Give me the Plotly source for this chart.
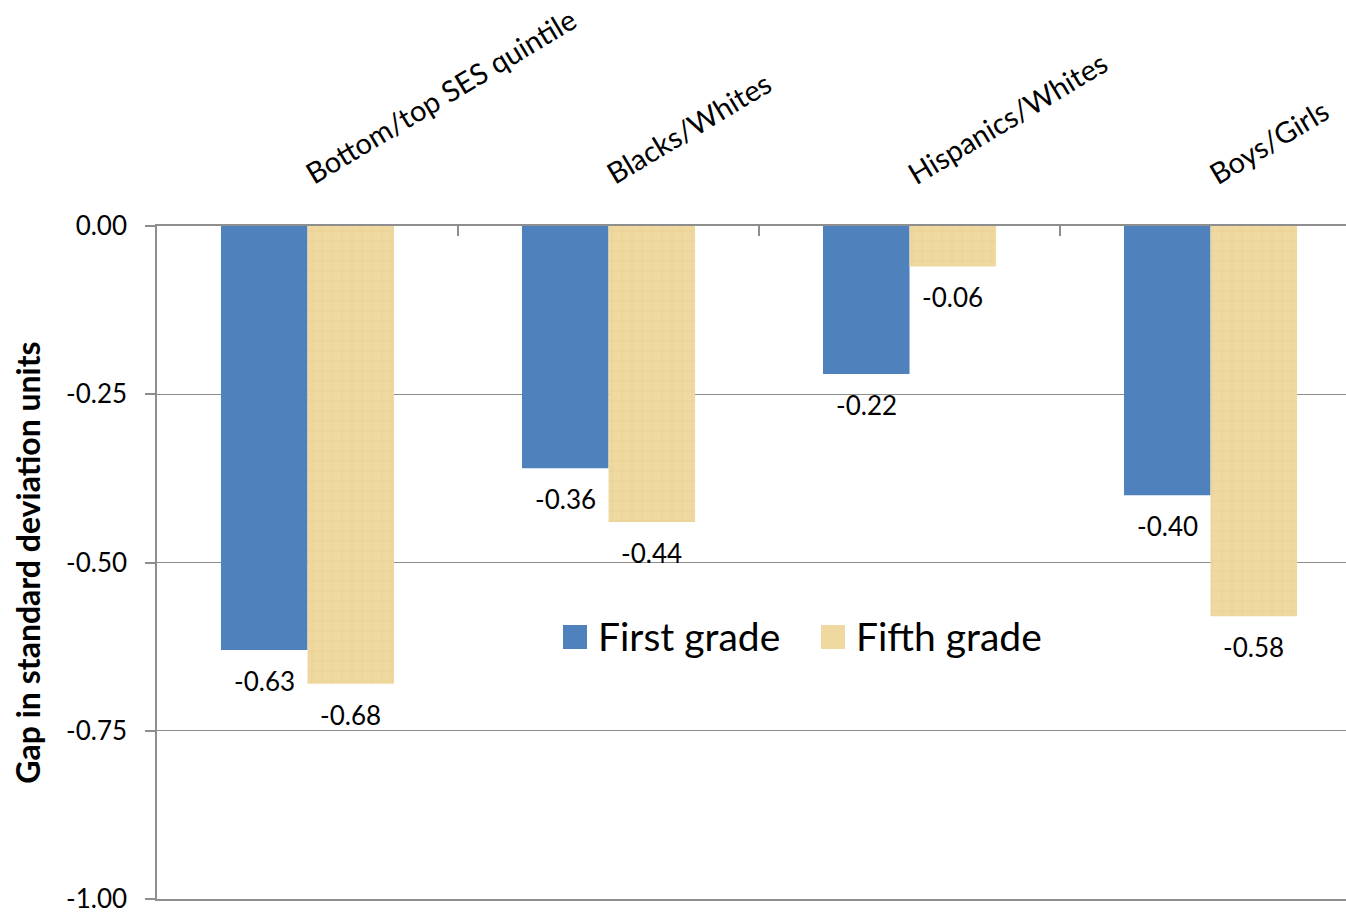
import plotly.graph_objects as go

categories = ["Bottom/top SES quintile", "Blacks/Whites", "Hispanics/Whites", "Boys/Girls"]
first_grade = [-0.63, -0.36, -0.22, -0.40]
fifth_grade = [-0.68, -0.44, -0.06, -0.58]
series_names = ["First grade", "Fifth grade"]
y_tick_vals = [0.0, -0.25, -0.5, -0.75, -1.0]
y_tick_text = ["0.00", "-0.25", "-0.50", "-0.75", "-1.00"]
y_title = "Gap in standard deviation units"

BLUE = "#4F81BD"
TAN = "#EFD9A0"
GRID = "#8E8E8E"
FONT = "Lato"

W, H = 1346, 915
L, R, T, B = 157, 0, 226, 16

fig = go.Figure()
fig.add_trace(go.Bar(x=categories, y=first_grade, name=series_names[0],
                     marker=dict(color=BLUE, line=dict(width=0)), showlegend=False))
fig.add_trace(go.Bar(x=categories, y=fifth_grade, name=series_names[1],
                     marker=dict(color=TAN, line=dict(width=0),
                                 pattern=dict(shape="+", fgcolor="#DEC27F", bgcolor=TAN,
                                              size=10, solidity=0.12)),
                     showlegend=False))

ann = []
# data labels
for vals, shift in ((first_grade, -43), (fifth_grade, 43)):
    for c, v in zip(categories, vals):
        ann.append(dict(x=c, y=v, xref="x", yref="y", text=f"{v:.2f}".replace("\u2212", "-"),
                        showarrow=False, xshift=shift, yshift=-31,
                        font=dict(family=FONT, size=26, color="black")))
# category labels (rotated, above the axis)
for c in categories:
    ann.append(dict(x=c, y=1, xref="x", yref="paper", text=c, showarrow=False,
                    textangle=-31, xanchor="left", yanchor="bottom",
                    xshift=-11, yshift=33,
                    font=dict(family=FONT, size=29, color="black")))

# custom legend
pw, ph = W - L - R, H - T - B
def px(x):
    return (x - L) / pw
def py(y):
    return (H - B - y) / ph

shapes = [
    dict(type="rect", xref="paper", yref="paper", x0=px(563), x1=px(587), y0=py(649), y1=py(625),
         fillcolor=BLUE, line=dict(width=0)),
    dict(type="rect", xref="paper", yref="paper", x0=px(821), x1=px(845), y0=py(649), y1=py(625),
         fillcolor=TAN, line=dict(width=0)),
]
ann.append(dict(x=px(596), y=py(636), xref="paper", yref="paper", text=series_names[0],
                showarrow=False, xanchor="left", yanchor="middle",
                font=dict(family=FONT, size=39, color="black")))
ann.append(dict(x=px(854), y=py(636), xref="paper", yref="paper", text=series_names[1],
                showarrow=False, xanchor="left", yanchor="middle",
                font=dict(family=FONT, size=39, color="black")))

fig.update_layout(
    width=W, height=H,
    margin=dict(l=L, r=R, t=T, b=B, pad=0),
    paper_bgcolor="white", plot_bgcolor="white",
    barmode="group", bargap=0.425, bargroupgap=0,
    font=dict(family=FONT, size=22, color="black"),
    annotations=ann, shapes=shapes,
    xaxis=dict(type="category", range=[-0.5, 3.45], side="top", showline=True,
               linecolor=GRID, linewidth=1.5, mirror=True, ticks="inside", ticklen=10,
               tickcolor=GRID, tickwidth=1.5, tickson="boundaries", showticklabels=False,
               showgrid=False, zeroline=False),
    yaxis=dict(range=[-1, 0], tickvals=y_tick_vals, ticktext=y_tick_text,
               ticks="outside", ticklen=10, tickcolor=GRID, tickwidth=1.5,
               ticklabelstandoff=13,
               showline=True, linecolor=GRID, linewidth=1.5,
               showgrid=True, gridcolor=GRID, gridwidth=1.2, zeroline=False,
               tickfont=dict(family=FONT, size=26, color="black"),
               title=dict(text=y_title, standoff=16,
                          font=dict(family=FONT, size=32, color="black", weight="bold"))),
)

fig.write_html("out.html")
